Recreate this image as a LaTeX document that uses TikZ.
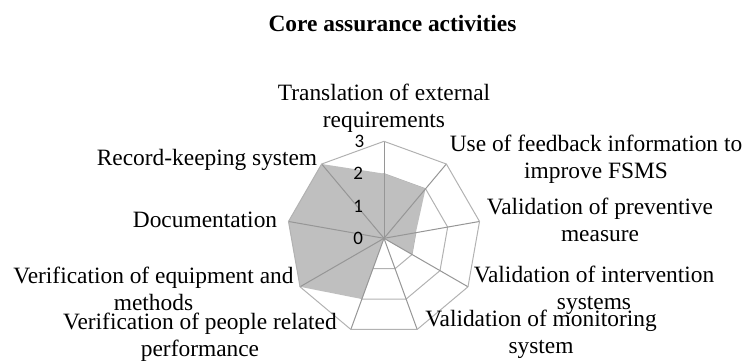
\documentclass[tikz,border=0pt]{standalone}
\usepackage{fontspec}
\setmainfont{Liberation Serif}
\newfontfamily\tickfont{Carlito}
\usetikzlibrary{calc}
\definecolor{shade}{RGB}{191,191,191}
\definecolor{gridc}{RGB}{178,178,178}
\definecolor{spokec}{RGB}{150,150,150}
\tikzset{
  lbl/.style={inner sep=0pt, align=center, font=\fontsize{23.4}{26.6}\selectfont},
  ttl/.style={inner sep=0pt, font=\fontsize{23.4}{26.6}\selectfont\bfseries},
  tick/.style={inner sep=0pt, font=\tickfont\fontsize{19}{21}\selectfont},
  ring/.style={draw=gridc, line width=1pt, line join=miter},
  spoke/.style={draw=spokec, line width=1pt},
  area/.style={fill=shade, draw=none}
}
\begin{document}
\begin{tikzpicture}[x=1pt,y=1pt]
\useasboundingbox (0,0) rectangle (745,360);
\coordinate (C) at (384,121.7);
\def\u{32.33}
% axis end points
\foreach \i/\a in {1/90,2/50,3/10,4/-30,5/-70,6/-110,7/-150,8/170,9/130}{
  \coordinate (A\i) at ($(C)+(\a:3*\u)$);
  \coordinate (B\i) at ($(C)+(\a:2*\u)$);
  \coordinate (D\i) at ($(C)+(\a:1*\u)$);
}
% rings
\draw[ring] (D1)--(D2)--(D3)--(D4)--(D5)--(D6)--(D7)--(D8)--(D9)--cycle;
\draw[ring] (B1)--(B2)--(B3)--(B4)--(B5)--(B6)--(B7)--(B8)--(B9)--cycle;
% data area: 2,2,1,1,0,2,3,3,3
\coordinate (V1) at ($(C)+(90:2*\u)$);
\coordinate (V2) at ($(C)+(50:2*\u)$);
\coordinate (V3) at ($(C)+(10:1*\u)$);
\coordinate (V4) at ($(C)+(-30:1*\u)$);
\coordinate (V5) at (C);
\coordinate (V6) at ($(C)+(-110:2*\u)$);
\coordinate (V7) at ($(C)+(-150:3*\u)$);
\coordinate (V8) at ($(C)+(170:3*\u)$);
\coordinate (V9) at ($(C)+(130:3*\u)$);
\fill[area] (V1)--(V2)--(V3)--(V4)--(V5)--(V6)--(V7)--(V8)--(V9)--cycle;
% spokes
\foreach \i in {1,...,9}{ \draw[spoke] (C)--(A\i); }
% outer ring
\draw[ring] (A1)--(A2)--(A3)--(A4)--(A5)--(A6)--(A7)--(A8)--(A9)--cycle;
% tick labels
\node[tick] (t0) at (358.3,121.7) {0};
\node[tick] (t1) at (358.3,154) {1};
\node[tick] (t2) at (358.3,186.4) {2};
\node[tick] (t3) at (359.5,218.7) {3};
% title
\node[ttl] (title) at (392.5,336) {Core assurance activities};
% axis labels
\node[lbl] (l1) at (384,251.5) {Translation of external\\requirements};
\node[lbl] (l2) at (596,201) {Use of feedback information to\\improve FSMS};
\node[lbl] (l3) at (600,140) {Validation of preventive\\measure};
\node[lbl] (l4) at (594,70) {Validation of intervention\\systems};
\node[lbl] (l5) at (541,26) {Validation of monitoring\\system};
\node[lbl] (l6) at (200,23) {Verification of people related\\performance};
\node[lbl] (l7) at (153.5,71) {Verification of equipment and\\methods};
\node[lbl] (l8) at (205,140) {Documentation};
\node[lbl] (l9) at (207,200) {Record-keeping system};
\end{tikzpicture}
\end{document}
